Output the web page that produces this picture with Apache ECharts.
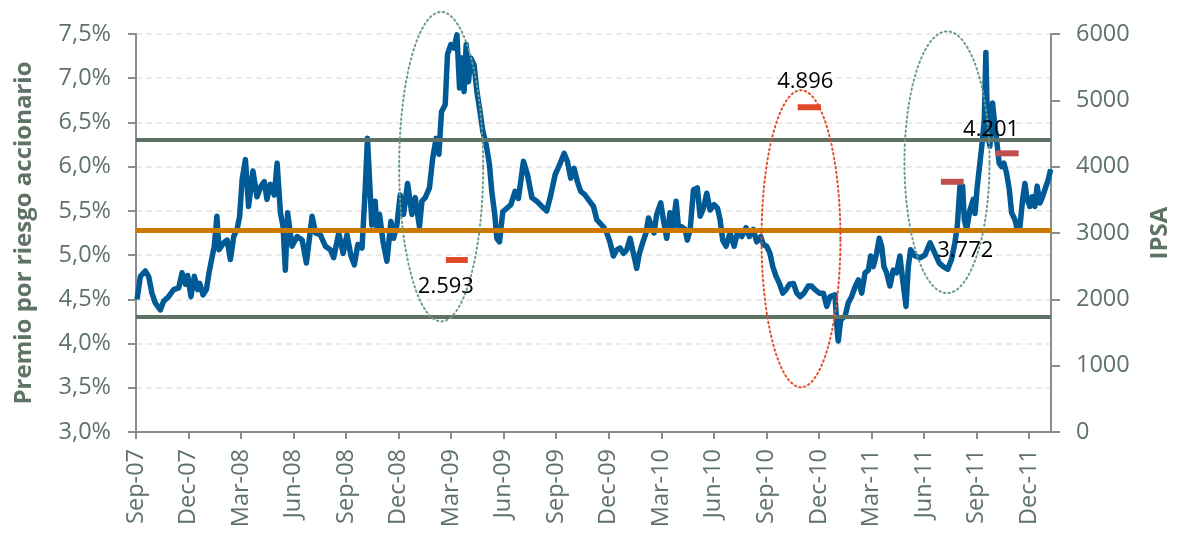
<!DOCTYPE html>
<html>
<head>
<meta charset="utf-8">
<script src="https://cdn.jsdelivr.net/npm/echarts@6/dist/echarts.min.js"></script>
<style>
  html, body { margin: 0; padding: 0; background: #fff; }
  #chart { width: 1191px; height: 539px; }
</style>
</head>
<body>
<div id="chart"></div>
<script>
// eje x: meses desde sep-07
var tickLabels = ['Sep-07', 'Dec-07', 'Mar-08', 'Jun-08', 'Sep-08', 'Dec-08', 'Mar-09', 'Jun-09', 'Sep-09',
  'Dec-09', 'Mar-10', 'Jun-10', 'Sep-10', 'Dec-10', 'Mar-11', 'Jun-11', 'Sep-11', 'Dec-11'];

// premio por riesgo accionario (%)
var premMonth = [0.06, 0.25, 0.53, 0.72, 0.91, 1.10, 1.39, 1.58, 1.86, 2.15, 2.44, 2.63, 2.82, 2.95, 3.14, 3.33,
  3.52, 3.64, 3.83, 4.02, 4.17, 4.28, 4.47, 4.62, 4.74, 5.01, 5.20, 5.39, 5.58, 5.77, 5.92, 6.06, 6.25, 6.43,
  6.68, 6.91, 7.14, 7.33, 7.48, 7.67, 7.90, 8.06, 8.25, 8.40, 8.53, 8.66, 8.91, 9.20, 9.49, 9.73, 10.06, 10.25,
  10.53, 10.82, 11.10, 11.29, 11.58, 11.83, 12.05, 12.28, 12.47, 12.67, 12.91, 13.10, 13.22, 13.47, 13.66,
  13.76, 13.91, 14.10, 14.33, 14.56, 14.71, 14.90, 15.09, 15.28, 15.51, 15.76, 15.95, 16.19, 16.33, 16.52,
  16.76, 16.95, 17.14, 17.30, 17.45, 17.66, 17.79, 17.98, 18.17, 18.33, 18.48, 18.63, 18.74, 18.86, 18.99,
  19.12, 19.31, 19.47, 19.62, 19.81, 20.00, 20.19, 20.32, 20.49, 20.61, 20.76, 20.95, 21.18, 21.41, 21.65,
  21.84, 22.13, 22.36, 22.61, 22.89, 23.18, 23.46, 23.69, 23.94, 24.19, 24.45, 24.64, 24.83, 25.02, 25.21,
  25.40, 25.65, 25.90, 26.13, 26.32, 26.51, 26.70, 26.89, 27.08, 27.27, 27.46, 27.65, 27.84, 28.03, 28.22,
  28.41, 28.60, 28.75, 28.94, 29.13, 29.27, 29.46, 29.59, 29.74, 29.97, 30.12, 30.31, 30.50, 30.66, 30.85,
  30.98, 31.17, 31.36, 31.49, 31.65, 31.84, 32.06, 32.22, 32.41, 32.60, 32.79, 33.02, 33.21, 33.36, 33.51,
  33.70, 33.93, 34.16, 34.35, 34.60, 34.84, 35.03, 35.26, 35.45, 35.68, 35.83, 36.02, 36.21, 36.37, 36.56,
  36.75, 36.94, 37.13, 37.32, 37.55, 37.74, 37.93, 38.15, 38.40, 38.59, 38.78, 39.03, 39.26, 39.45, 39.64,
  39.92, 40.06, 40.11, 40.25, 40.50, 40.68, 40.87, 41.07, 41.26, 41.45, 41.64, 41.83, 41.96, 42.11, 42.30,
  42.45, 42.59, 42.72, 42.87, 43.06, 43.25, 43.44, 43.63, 43.79, 43.98, 44.11, 44.24, 44.49, 44.78, 45.06,
  45.35, 45.63, 45.88, 46.11, 46.36, 46.58, 46.77, 46.91, 47.06, 47.21, 47.31, 47.44, 47.63, 47.82, 47.92,
  48.05, 48.20, 48.35, 48.45, 48.54, 48.64, 48.77, 48.92, 49.06, 49.15, 49.30, 49.44, 49.57, 49.72, 49.88,
  50.01, 50.20, 50.33, 50.48, 50.64, 50.77, 50.90, 51.05, 51.19, 51.34, 51.47, 51.63, 51.78, 51.91, 52.10, 52.24];
var premValue = [4.50, 4.76, 4.82, 4.76, 4.57, 4.46, 4.38, 4.48, 4.53, 4.61, 4.63, 4.80, 4.67, 4.77, 4.53, 4.76,
  4.61, 4.68, 4.55, 4.61, 4.80, 4.91, 5.10, 5.44, 5.06, 5.14, 5.17, 4.95, 5.21, 5.29, 5.44, 5.85, 6.08, 5.55,
  5.95, 5.66, 5.78, 5.83, 5.63, 5.80, 5.68, 6.04, 5.48, 5.32, 4.83, 5.48, 5.10, 5.21, 5.17, 4.91, 5.44, 5.25,
  5.23, 5.10, 5.06, 4.97, 5.25, 5.02, 5.23, 4.99, 4.89, 5.12, 5.08, 5.78, 6.32, 5.34, 5.61,
  5.31, 5.46, 5.16, 4.93, 5.38, 5.19, 5.34, 5.68, 5.46, 5.81, 5.46, 5.65, 5.32, 5.61, 5.65,
  5.76, 6.10, 6.32, 6.14, 6.62, 6.70, 7.27, 7.38, 7.34, 7.49, 6.89, 7.23, 6.85, 7.38, 6.96,
  7.23, 7.15, 6.85, 6.66, 6.40, 6.25, 6.02, 5.72, 5.46, 5.19, 5.15, 5.49, 5.53, 5.57, 5.72,
  5.64, 6.06, 5.91, 5.65, 5.61, 5.55, 5.50, 5.68, 5.91, 6.02, 6.15, 6.06, 5.87, 5.98, 5.83,
  5.72, 5.68, 5.61, 5.55, 5.40, 5.36, 5.32, 5.25, 5.14, 4.99, 5.06, 5.08, 5.02, 5.06, 5.19,
  5.02, 4.85, 5.02, 5.14, 5.25, 5.42, 5.32, 5.25, 5.46, 5.59, 5.40, 5.19, 5.48, 5.32, 5.61,
  5.32, 5.32, 5.29, 5.17, 5.29, 5.74, 5.76, 5.44, 5.53, 5.70, 5.51, 5.57, 5.53, 5.40, 5.17,
  5.10, 5.25, 5.10, 5.25, 5.21, 5.31, 5.21, 5.29, 5.15, 5.21, 5.12, 5.10, 5.02, 4.87, 4.76,
  4.68, 4.57, 4.61, 4.67, 4.68, 4.57, 4.53, 4.57, 4.65, 4.65, 4.61, 4.57, 4.57, 4.42, 4.53,
  4.55, 4.12, 4.03, 4.27, 4.31, 4.46, 4.53, 4.64, 4.72, 4.57, 4.80, 4.83, 4.99, 4.87, 5.02,
  5.19, 5.10, 4.87, 4.80, 4.65, 4.83, 4.80, 4.99, 4.72, 4.42, 4.87, 5.06, 4.99, 4.97, 5.00,
  5.14, 5.02, 4.91, 4.87, 4.84, 4.95, 5.14, 5.33, 5.78, 5.78, 5.40, 5.29, 5.51, 5.63, 5.47,
  5.78, 6.04, 6.31, 6.53, 7.29, 6.38, 6.23, 6.72, 6.46, 6.31, 6.04, 6.00, 6.04, 5.93, 5.74,
  5.48, 5.40, 5.29, 5.31, 5.63, 5.81, 5.63, 5.55, 5.66, 5.55, 5.78, 5.59, 5.66, 5.74, 5.85, 5.97];

// líneas de referencia (%)
var upperBand = 6.30;
var meanLevel = 5.28;
var lowerBand = 4.30;

// IPSA en los puntos marcados
var ipsaValue = [2593, 4896, 3772, 4201];
var ipsaLabel = ['2.593', '4.896', '3.772', '4.201'];
var ipsaFrom = [17.70, 37.79, 45.97, 49.10];
var ipsaTo = [18.95, 39.12, 47.27, 50.41];

// elipses punteadas (centro mes, centro %, radio meses, radio %)
var ellCenterMonth = [17.43, 37.98, 46.32];
var ellCenterPct = [6.00, 5.185, 6.05];
var ellRadMonth = [2.40, 2.255, 2.43];
var ellRadPct = [1.75, 1.68, 1.48];

var axisColor = '#8c8c8c';
var textColor = '#5e7265';
var fontFam = '"Open Sans", "Noto Sans", sans-serif';
var dashColors = ['#e0482a', '#e0482a', '#c0504d', '#c0504d'];
var labelOffset = [[-11, 27], [-4, -25], [13, 69], [-16, -24]];
var ellColors = ['#6f9c8a', '#e2502b', '#6f9c8a'];

var premData = premMonth.map(function (m, i) { return [m, premValue[i]]; });
var ipsaData = ipsaValue.map(function (v, i) { return [ipsaFrom[i], ipsaTo[i], v]; });
var ellData = ellCenterMonth.map(function (m, i) { return [m, ellCenterPct[i], ellRadMonth[i], ellRadPct[i]]; });
var tickMonths = tickLabels.map(function (t, i) { return i * 3; });

var myChart = echarts.init(document.getElementById('chart'));

var option = {
  backgroundColor: '#fff',
  animation: false,
  grid: { left: 136, right: 140, top: 34, bottom: 107 },
  xAxis: {
    type: 'value',
    min: 0,
    max: 52.26,
    interval: 3,
    axisLine: { show: true, onZero: false, lineStyle: { color: axisColor, width: 2 } },
    axisTick: { show: true, length: 7, customValues: tickMonths, lineStyle: { color: axisColor, width: 2 } },
    axisLabel: {
      customValues: tickMonths,
      rotate: 90,
      margin: 17,
      color: textColor,
      fontSize: 23.5,
      fontFamily: fontFam,
      formatter: function (v) { return tickLabels[Math.round(v / 3)] || ''; }
    },
    splitLine: { show: false }
  },
  yAxis: [{
    type: 'value',
    min: 3,
    max: 7.5,
    interval: 0.5,
    name: 'Premio por riesgo accionario',
    nameLocation: 'middle',
    nameRotate: 90,
    nameGap: 100,
    nameTextStyle: { color: textColor, fontSize: 24, fontWeight: 'bold', fontFamily: fontFam },
    axisLine: { show: true, lineStyle: { color: axisColor, width: 2 } },
    axisTick: { show: true, length: 8, lineStyle: { color: axisColor, width: 2 } },
    axisLabel: {
      margin: 25,
      color: textColor,
      fontSize: 23.5,
      fontFamily: fontFam,
      formatter: function (v) { return v.toFixed(1).replace('.', ',') + '%'; }
    },
    splitLine: { show: true, lineStyle: { color: '#e3e3e3', width: 1.5, type: [6, 4] } }
  }, {
    type: 'value',
    min: 0,
    max: 6000,
    interval: 1000,
    position: 'right',
    name: 'IPSA',
    nameLocation: 'middle',
    nameRotate: 90,
    nameGap: 97,
    nameTextStyle: { color: textColor, fontSize: 24, fontWeight: 'bold', fontFamily: fontFam },
    axisLine: { show: true, lineStyle: { color: axisColor, width: 2 } },
    axisTick: { show: true, length: 9, lineStyle: { color: axisColor, width: 2 } },
    axisLabel: {
      margin: 25,
      color: textColor,
      fontSize: 23.5,
      fontFamily: fontFam,
      formatter: function (v) { return String(v); }
    },
    splitLine: { show: false }
  }],
  series: [{
    name: 'Premio',
    type: 'line',
    data: premData,
    showSymbol: false,
    symbol: 'none',
    lineStyle: { color: '#005a96', width: 5.5, join: 'round' },
    z: 2,
    markLine: {
      silent: true,
      symbol: 'none',
      label: { show: false },
      z: 3,
      data: [
        { yAxis: upperBand, lineStyle: { color: '#5f7064', width: 4, type: 'solid' } },
        { yAxis: meanLevel, lineStyle: { color: '#cd7800', width: 5, type: 'solid' } },
        { yAxis: lowerBand, lineStyle: { color: '#5f7064', width: 4, type: 'solid' } }
      ]
    }
  }, {
    name: 'Elipses',
    type: 'custom',
    yAxisIndex: 0,
    silent: true,
    clip: false,
    z: 4,
    data: ellData,
    renderItem: function (params, api) {
      var pts = [];
      var cx = api.value(0), cy = api.value(1), rx = api.value(2), ry = api.value(3);
      for (var k = 0; k <= 120; k++) {
        var t = k / 120 * Math.PI * 2;
        pts.push(api.coord([cx + rx * Math.cos(t), cy + ry * Math.sin(t)]));
      }
      return {
        type: 'polyline',
        shape: { points: pts },
        style: { stroke: ellColors[params.dataIndex], lineWidth: 2, lineDash: [1.5, 3.2], lineCap: 'round', fill: null }
      };
    }
  }, {
    name: 'IPSA',
    type: 'custom',
    yAxisIndex: 1,
    silent: true,
    clip: false,
    z: 5,
    data: ipsaData,
    renderItem: function (params, api) {
      var i = params.dataIndex;
      var a = api.coord([api.value(0), api.value(2)]);
      var b = api.coord([api.value(1), api.value(2)]);
      return {
        type: 'group',
        children: [{
          type: 'rect',
          shape: { x: a[0], y: a[1] - 3, width: b[0] - a[0], height: 6 },
          style: { fill: dashColors[i] }
        }, {
          type: 'text',
          x: (a[0] + b[0]) / 2 + labelOffset[i][0],
          y: a[1] + labelOffset[i][1],
          style: {
            text: ipsaLabel[i],
            fill: '#000',
            font: '22px ' + fontFam,
            align: 'center',
            verticalAlign: 'middle'
          }
        }]
      };
    }
  }]
};

myChart.setOption(option);
</script>
</body>
</html>
